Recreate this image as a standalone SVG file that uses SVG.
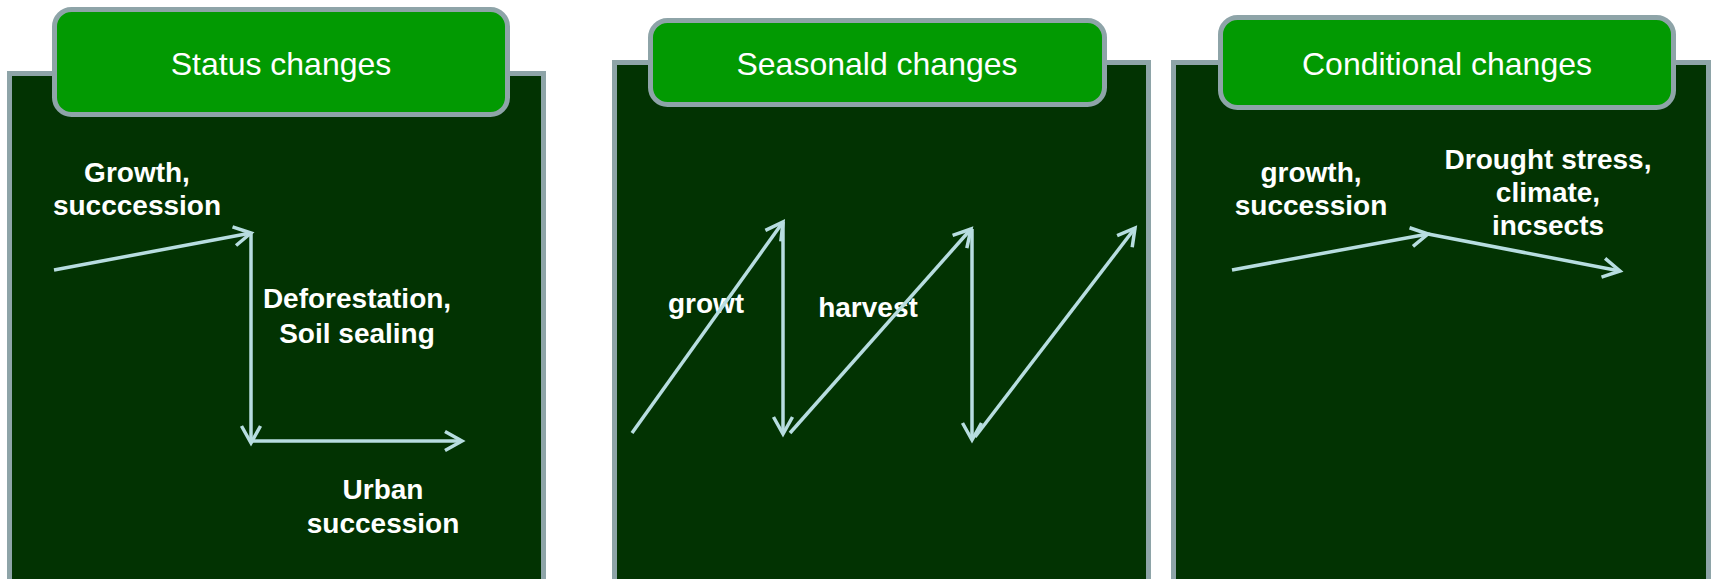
<svg xmlns="http://www.w3.org/2000/svg" width="1713" height="579" viewBox="0 0 1713 579">
<style>
.panel{fill:#023302;stroke:#8EA4A8;stroke-width:5}
.tab{fill:#029A02;stroke:#8EA4A8;stroke-width:5}
.title{font-family:"Liberation Sans",Arial,sans-serif;font-size:32px;fill:#FFFFFF;text-anchor:middle}
.lbl{font-family:"Liberation Sans",Arial,sans-serif;font-size:28px;font-weight:bold;fill:#FFFFFF;text-anchor:middle}
.arr{fill:none;stroke:#B7DDE0;stroke-width:3.5;marker-end:url(#ah)}
</style>
<defs>
<marker id="ah" markerUnits="userSpaceOnUse" markerWidth="40" markerHeight="40" viewBox="-25 -20 30 40" refX="0" refY="0" orient="auto" overflow="visible">
<path d="M-17,-9.5 L0,0 L-17,9.5" fill="none" stroke="#B7DDE0" stroke-width="3.5"/>
</marker>
</defs>
<rect width="1713" height="579" fill="#FFFFFF"/>
<g id="panel-status">
<rect class="panel" x="9.5" y="73.5" width="534" height="600"/>
<rect class="tab" x="54.5" y="9.5" width="453" height="105" rx="17" ry="17"/>
<text class="title" x="281" y="75">Status changes</text>
</g>
<g id="panel-seasonal">
<rect class="panel" x="614.5" y="62.5" width="534" height="600"/>
<rect class="tab" x="650.5" y="20.5" width="454" height="84" rx="17" ry="17"/>
<text class="title" x="877" y="75">Seasonald changes</text>
</g>
<g id="panel-conditional">
<rect class="panel" x="1173.5" y="62.5" width="535" height="600"/>
<rect class="tab" x="1220.5" y="17.5" width="453" height="90" rx="17" ry="17"/>
<text class="title" x="1447" y="75">Conditional changes</text>
</g>
<g id="labels">
<text class="lbl" x="137" y="182">Growth,</text>
<text class="lbl" x="137" y="215">succcession</text>
<text class="lbl" x="357" y="308">Deforestation,</text>
<text class="lbl" x="357" y="343">Soil sealing</text>
<text class="lbl" x="383" y="499">Urban</text>
<text class="lbl" x="383" y="533">succession</text>
<text class="lbl" x="706" y="313">growt</text>
<text class="lbl" x="868" y="317">harvest</text>
<text class="lbl" x="1311" y="182">growth,</text>
<text class="lbl" x="1311" y="215">succession</text>
<text class="lbl" x="1548" y="169">Drought stress,</text>
<text class="lbl" x="1548" y="202">climate,</text>
<text class="lbl" x="1548" y="235">incsects</text>
</g>
<g id="connectors">
<line class="arr" x1="54" y1="270" x2="251" y2="233"/>
<line class="arr" x1="251" y1="233" x2="251" y2="443"/>
<line class="arr" x1="251" y1="441" x2="462" y2="441"/>
<line class="arr" x1="632" y1="433" x2="783" y2="222"/>
<line class="arr" x1="783" y1="222" x2="783" y2="434"/>
<line class="arr" x1="790" y1="433" x2="971" y2="229"/>
<line class="arr" x1="972" y1="229" x2="972" y2="440"/>
<line class="arr" x1="975" y1="437" x2="1135" y2="228"/>
<line class="arr" x1="1232" y1="270" x2="1428" y2="234"/>
<line class="arr" x1="1428" y1="234" x2="1620" y2="271"/>
</g>
</svg>
